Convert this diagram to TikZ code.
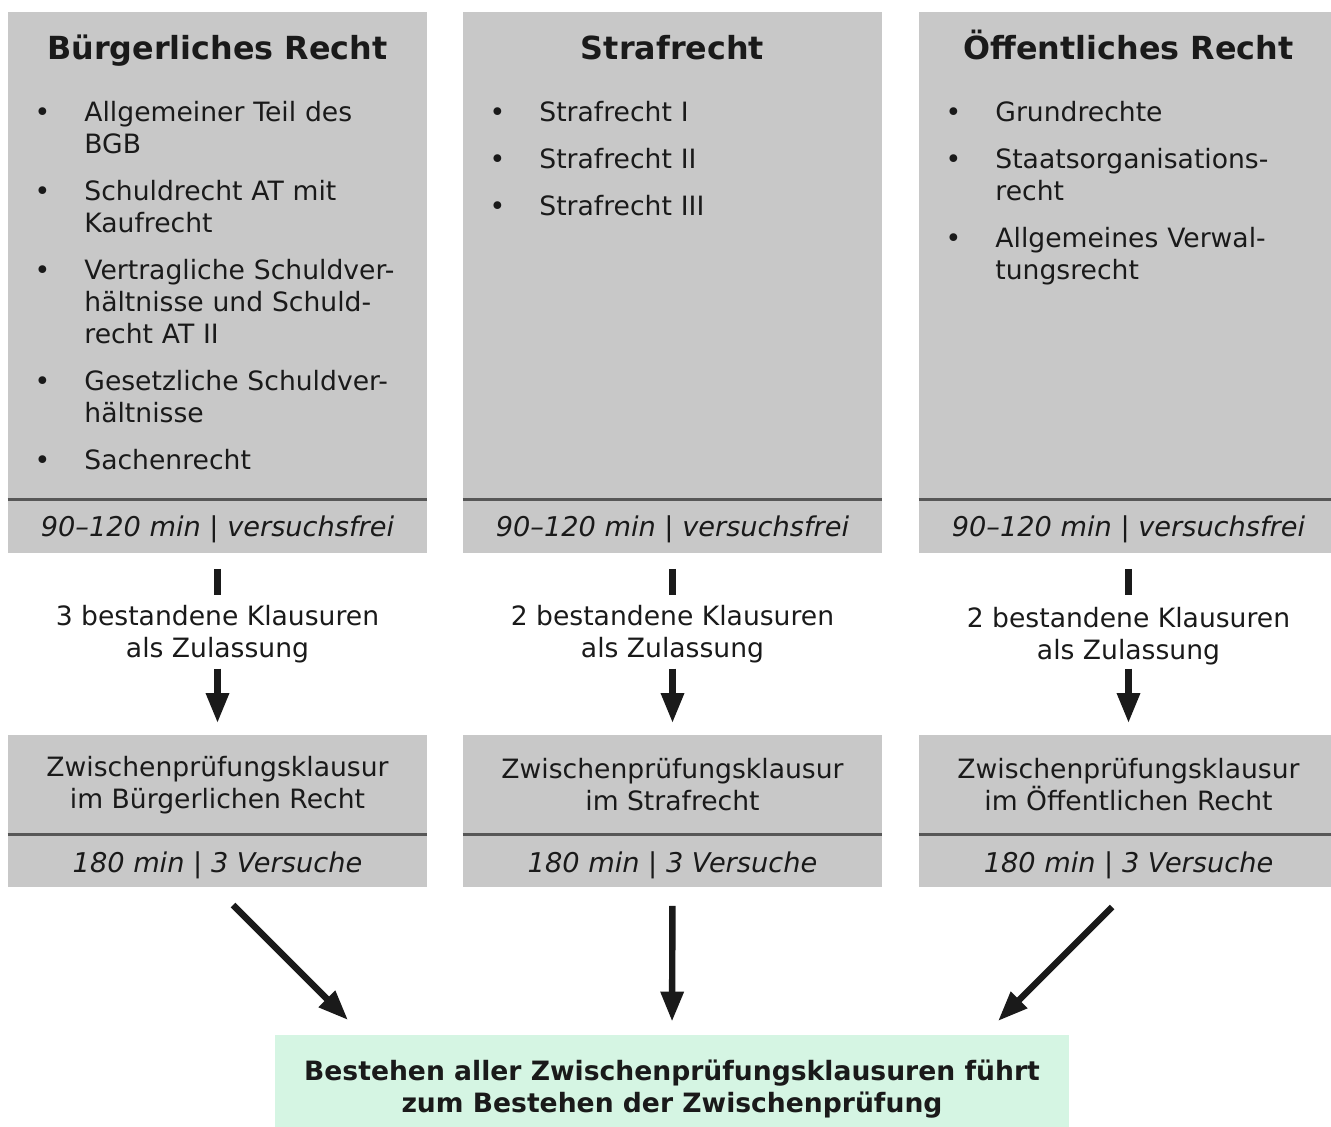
\documentclass[tikz,border=0pt]{standalone}
\usepackage{fontspec}
\setmainfont{DejaVu Sans}
\usetikzlibrary{arrows.meta}

\definecolor{panelgray}{HTML}{C8C8C8}
\definecolor{rulegray}{HTML}{575757}
\definecolor{goalgreen}{HTML}{D5F5E3}
\definecolor{inkblack}{HTML}{1A1A1A}

% bullet list inside the subject panels
\newenvironment{subjlist}{%
  \begin{list}{\textbullet}{%
    \setlength{\leftmargin}{24pt}\setlength{\labelwidth}{8pt}%
    \setlength{\labelsep}{17pt}\setlength{\itemsep}{7.5pt}%
    \setlength{\parsep}{0pt}\setlength{\topsep}{0pt}\setlength{\partopsep}{0pt}}}%
  {\end{list}}

\tikzset{
  panel/.style={fill=panelgray, minimum width=209.5pt, inner sep=0pt, anchor=north},
  head/.style={font=\fontsize{15.9pt}{18pt}\selectfont\bfseries, text=inkblack, anchor=base},
  items/.style={font=\fontsize{13.3pt}{16pt}\selectfont, text=inkblack, text width=192pt,
    anchor=base west, inner sep=0pt},
  foot/.style={panel, minimum height=27pt, text height=10pt, text depth=0pt,
    font=\fontsize{13.6pt}{16pt}\selectfont\itshape, text=inkblack},
  exam/.style={panel, minimum height=49.5pt, align=center, font=\fontsize{13.3pt}{16pt}\selectfont, text=inkblack},
  examfoot/.style={foot, minimum height=26.5pt, text height=11.5pt},
  lab/.style={align=center, anchor=north, inner sep=0pt, font=\fontsize{13.3pt}{16pt}\selectfont, text=inkblack},
  sepline/.style={rulegray, line width=1.5pt},
  bar/.style={inkblack, line width=3.2pt},
  flow/.style={inkblack, line width=3.2pt, -{Triangle[width=11pt,length=15pt]}},
  goalbox/.style={fill=goalgreen, minimum width=397pt, minimum height=54pt, align=center,
    font=\fontsize{13.3pt}{16pt}\selectfont\bfseries, text=inkblack}
}

\begin{document}
\begin{tikzpicture}[x=0.5pt, y=-0.5pt]
    \useasboundingbox (0,0) rectangle (1331,1127);
    % Panels with the course lists
    \node[panel, minimum height=243.5pt] (brPanel) at (217.5,12) {};
    \node[panel, minimum height=243.5pt] (stPanel) at (672.5,12) {};
    \node[panel, minimum height=243.5pt] (oePanel) at (1128.5,12) {};
    \node[head] (brHead) at (217.5,60) {Bürgerliches Recht};
    \node[head] (stHead) at (672.5,60) {Strafrecht};
    \node[head] (oeHead) at (1128.5,60) {Öffentliches Recht};
    \node[items] (brList) at (36,90) {\begin{subjlist}
      \item Allgemeiner Teil des\\BGB
      \item Schuldrecht AT mit\\Kaufrecht
      \item Vertragliche Schuldver-\\hältnisse und Schuld-\\recht AT II
      \item Gesetzliche Schuldver-\\hältnisse
      \item Sachenrecht
    \end{subjlist}};
    \node[items] (stList) at (491,90) {\begin{subjlist}
      \item Strafrecht I
      \item Strafrecht II
      \item Strafrecht III
    \end{subjlist}};
    \node[items] (oeList) at (947,90) {\begin{subjlist}
      \item Grundrechte
      \item Staatsorganisations-\\recht
      \item Allgemeines Verwal-\\tungsrecht
    \end{subjlist}};
    % Footers
    \node[foot] (brFoot) at (217.5,499) {90–120 min | versuchsfrei};
    \node[foot] (stFoot) at (672.5,499) {90–120 min | versuchsfrei};
    \node[foot] (oeFoot) at (1128.5,499) {90–120 min | versuchsfrei};
    \draw[sepline] (brPanel.south west) -- (brPanel.south east);
    \draw[sepline] (stPanel.south west) -- (stPanel.south east);
    \draw[sepline] (oePanel.south west) -- (oePanel.south east);
    % Admission labels
    \node[lab] (brLab) at (217.5,605) {3 bestandene Klausuren\\als Zulassung};
    \node[lab] (stLab) at (672.5,605) {2 bestandene Klausuren\\als Zulassung};
    \node[lab] (oeLab) at (1128.5,607) {2 bestandene Klausuren\\als Zulassung};
    % Intermediate exams
    \node[exam] (brExam) at (217.5,735) {Zwischenprüfungsklausur\\im Bürgerlichen Recht};
    \node[exam] (stExam) at (672.5,735) {Zwischenprüfungsklausur\\im Strafrecht};
    \node[exam] (oeExam) at (1128.5,735) {Zwischenprüfungsklausur\\im Öffentlichen Recht};
    \node[examfoot] (brExamFoot) at (217.5,834) {180 min | 3 Versuche};
    \node[examfoot] (stExamFoot) at (672.5,834) {180 min | 3 Versuche};
    \node[examfoot] (oeExamFoot) at (1128.5,834) {180 min | 3 Versuche};
    \draw[sepline] (brExam.south west) -- (brExam.south east);
    \draw[sepline] (stExam.south west) -- (stExam.south east);
    \draw[sepline] (oeExam.south west) -- (oeExam.south east);
    % Connectors
    \draw[bar, shorten <=7.5pt, shorten >=5pt] (brFoot.south) -- (brLab.north);
    \draw[bar, shorten <=7.5pt, shorten >=5pt] (stFoot.south) -- (stLab.north);
    \draw[bar, shorten <=7.5pt, shorten >=6pt] (oeFoot.south) -- (oeLab.north);
    \draw[flow, shorten <=2.5pt, shorten >=6pt] (brLab.south) -- (brExam.north);
    \draw[flow, shorten <=2.5pt, shorten >=6pt] (stLab.south) -- (stExam.north);
    \draw[flow, shorten <=1.5pt, shorten >=6pt] (oeLab.south) -- (oeExam.north);
    % Result
    \node[goalbox] (goal) at (672,1089) {Bestehen aller Zwischenprüfungsklausuren führt\\zum Bestehen der Zwischenprüfung};
    \coordinate (brOut) at (233,905);
    \coordinate (brIn) at (348,1020);
    \coordinate (oeOut) at (1112,907);
    \coordinate (oeIn) at (998,1021);
    \draw[flow] (brOut) -- (brIn);
    \draw[flow, shorten <=9pt, shorten >=6.5pt] (stExamFoot.south) -- (goal.north);
    \draw[flow] (oeOut) -- (oeIn);
\end{tikzpicture}
\end{document}
